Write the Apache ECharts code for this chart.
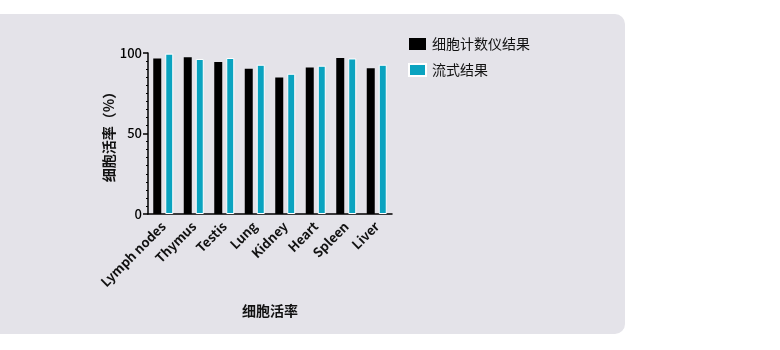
<!DOCTYPE html>
<html><head><meta charset="utf-8">
<script src="https://cdn.jsdelivr.net/npm/echarts@6/dist/echarts.min.js"></script>
<style>html,body{margin:0;padding:0;background:#fff}#c{width:780px;height:350px}</style>
</head><body><div id="c"></div>
<script>
const categories = ['Lymph nodes','Thymus','Testis','Lung','Kidney','Heart','Spleen','Liver'];
const counterValues = [96.6, 97.3, 94.4, 90.2, 84.8, 91.0, 96.9, 90.6];
const flowValues = [99.6, 96.3, 96.9, 92.7, 87.1, 92.1, 96.6, 92.7];
const seriesNames = ['细胞计数仪结果', '流式结果'];
const yTicks = [0, 50, 100];

const font = '"Noto Sans CJK SC", "Noto Sans", sans-serif';
const chart = echarts.init(document.getElementById('c'), null, {renderer:'canvas'});
chart.setOption({
  backgroundColor: '#ffffff',
  animation: false,
  textStyle: {fontFamily: font},
  graphic: [{
    type: 'rect', z: -10, silent: true,
    shape: {x: -12, y: 14, width: 637, height: 320, r: 10},
    style: {fill: '#e4e3e9'}
  }],
  legend: {
    left: 403, top: 32, orient: 'vertical',
    itemWidth: 17, itemHeight: 12, itemGap: 12,
    icon: 'rect',
    textStyle: {fontSize: 14, color: '#111', fontFamily: font, padding: [0,0,0,1]},
    data: seriesNames
  },
  grid: {left: 148, right: 388, top: 53, bottom: 136, containLabel: false},
  xAxis: {
    type: 'category', data: categories,
    name: '细胞活率', nameLocation: 'middle', nameGap: 90,
    nameTextStyle: {fontSize: 14, fontWeight: 'bold', color: '#111', fontFamily: font},
    axisLine: {lineStyle: {color: '#000', width: 1.5}},
    axisTick: {alignWithLabel: true, length: 5, lineStyle: {color: '#000', width: 1.5}},
    axisLabel: {rotate: 45, fontSize: 13, fontWeight: 'bold', color: '#111', margin: 10, interval: 0, fontFamily: font}
  },
  yAxis: {
    type: 'value', min: 0, max: 100, interval: 50,
    name: '细胞活率（%）', nameLocation: 'middle', nameGap: 28, nameRotate: 90,
    nameTextStyle: {fontSize: 14, fontWeight: 'bold', color: '#111', fontFamily: font},
    axisLine: {show: true, lineStyle: {color: '#000', width: 1.5}},
    axisTick: {show: true, length: 5, lineStyle: {color: '#000', width: 1.5}},
    minorTick: {show: true, splitNumber: 10, length: 2, lineStyle: {color: '#000', width: 1}},
    splitLine: {show: false},
    axisLabel: {fontSize: 13, fontWeight: 500, color: '#000', margin: 6, fontFamily: font,
      formatter: v => yTicks.includes(v) ? String(v) : ''}
  },
  series: [
    {name: seriesNames[0], type: 'bar', data: counterValues, barWidth: 8, barGap: '50%',
     itemStyle: {color: '#000'}},
    {name: seriesNames[1], type: 'bar', data: flowValues, barWidth: 8,
     itemStyle: {color: '#0aa3c0', borderColor: '#ffffff', borderWidth: 1}}
  ]
});
</script></body></html>
